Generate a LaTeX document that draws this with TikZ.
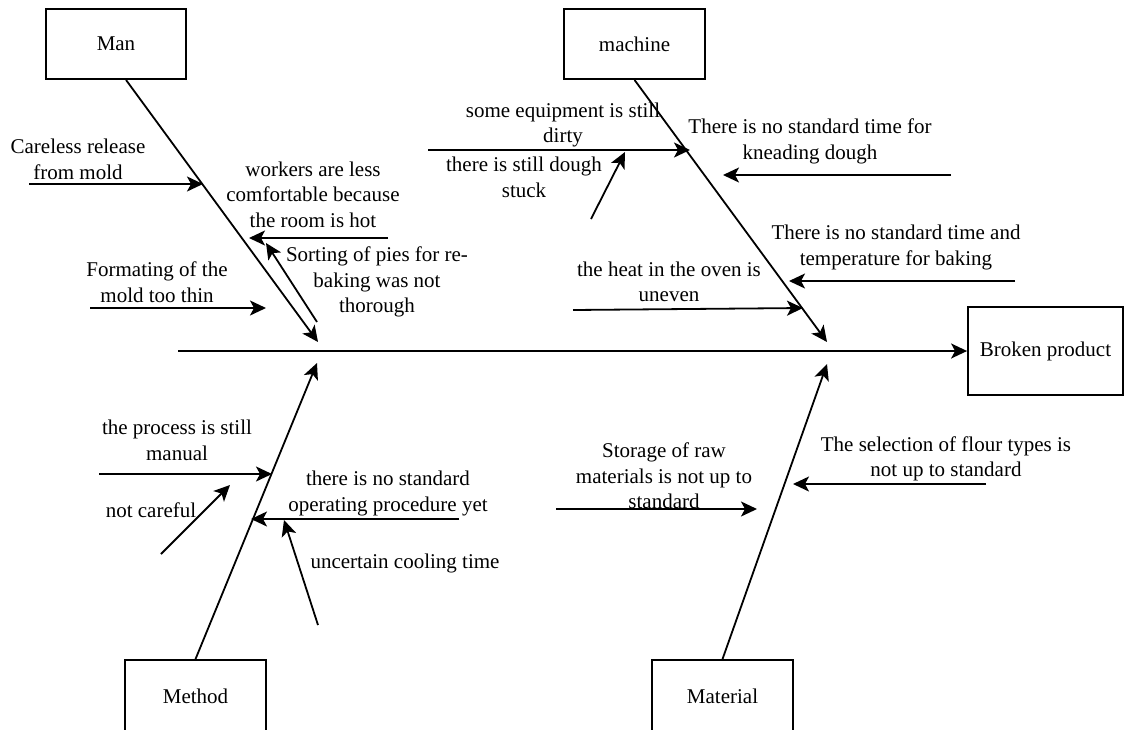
\documentclass[tikz,border=0pt]{standalone}
\usepackage{fontspec}
\setmainfont{Liberation Serif}
\usetikzlibrary{arrows.meta}
\begin{document}
\begin{tikzpicture}[
  box/.style={draw, line width=1.8pt, inner sep=0pt, font=\fontsize{21}{25.5}\selectfont},
  lbl/.style={align=center, inner sep=0pt, font=\fontsize{21}{25.5}\selectfont},
  arr/.style={line width=1.8pt, -{Stealth[length=16pt,width=15pt,inset=4pt,fill=black]}},
]
\begin{scope}[x=1pt,y=-1pt]
\useasboundingbox (0,0) rectangle (1124,729);

% category boxes
\node[box, minimum width=140pt, minimum height=70pt] (man) at (116,44) {Man};
\node[box, minimum width=141pt, minimum height=70pt] (machine) at (634.5,44) {machine};
\node[box, minimum width=141pt, minimum height=72pt] (method) at (195.5,696) {Method};
\node[box, minimum width=141pt, minimum height=72pt] (material) at (722.5,696) {Material};
\node[box, minimum width=155pt, minimum height=88pt] (broken) at (1045.5,351) {Broken product};

% spine and bones
\coordinate (spine) at (178,351);
\coordinate (mantip) at (318,342);
\coordinate (machtip) at (827,342);
\coordinate (methtip) at (317,363);
\coordinate (mattip) at (827,364);
\draw[arr] (spine) -- (broken.west);
\draw[arr] ([xshift=10pt]man.south) -- (mantip);
\draw[arr] (machine.south) -- (machtip);
\draw[arr] (method.north) -- (methtip);
\draw[arr] (material.north) -- (mattip);

% Man causes
\node[lbl] (tcareless) at (78,159.5) {Careless release\\from mold};
\coordinate (a1s) at (29,184); \coordinate (a1e) at (203,184);
\draw[arr] (a1s) -- (a1e);
\node[lbl] (tworkers) at (313,194.5) {workers are less\\comfortable because\\the room is hot};
\coordinate (a2s) at (388,238); \coordinate (a2e) at (249,238);
\draw[arr] (a2s) -- (a2e);
\node[lbl] (tsorting) at (377,282) {Sorting of pies for re-\\baking was not\\thorough};
\coordinate (a3s) at (317,322); \coordinate (a3e) at (266,243);
\draw[arr] (a3s) -- (a3e);
\node[lbl] (tformat) at (157,282) {Formating of the\\mold too thin};
\coordinate (a4s) at (90,308); \coordinate (a4e) at (266,308);
\draw[arr] (a4s) -- (a4e);

% machine causes
\node[lbl] (tequip) at (563,125) {some equipment is still\\dirty};
\coordinate (a5s) at (428,150); \coordinate (a5e) at (690,150);
\draw[arr] (a5s) -- (a5e);
\node[lbl] (tdough) at (524,177.5) {there is still dough\\stuck};
\coordinate (a6s) at (591,219); \coordinate (a6e) at (625,152);
\draw[arr] (a6s) -- (a6e);
\node[lbl] (tknead) at (810,141.5) {There is no standard time for\\kneading dough};
\coordinate (a7s) at (951,175); \coordinate (a7e) at (723,175);
\draw[arr] (a7s) -- (a7e);
\node[lbl] (tbake) at (896,247.5) {There is no standard time and\\temperature for baking};
\coordinate (a8s) at (1015,281); \coordinate (a8e) at (789,281);
\draw[arr] (a8s) -- (a8e);
\node[lbl] (theat) at (669,282) {the heat in the oven is\\uneven};
\coordinate (a9s) at (573,310); \coordinate (a9e) at (803,308);
\draw[arr] (a9s) -- (a9e);

% Method causes
\node[lbl] (tproc) at (177,440.5) {the process is still\\manual};
\coordinate (a10s) at (99,474); \coordinate (a10e) at (272,474);
\draw[arr] (a10s) -- (a10e);
\node[lbl] (tcare) at (151,510) {not careful};
\coordinate (a11s) at (161,554); \coordinate (a11e) at (230,485);
\draw[arr] (a11s) -- (a11e);
\node[lbl] (tsop) at (388,493.5) {there is no standard\\operating procedure yet};
\coordinate (a12s) at (459,519); \coordinate (a12e) at (251,519);
\draw[arr] (a12s) -- (a12e);
\node[lbl] (tcool) at (405,563) {uncertain cooling time};
\coordinate (a13s) at (318,625); \coordinate (a13e) at (284,520);
\draw[arr] (a13s) -- (a13e);

% Material causes
\node[lbl] (tstore) at (664,476) {Storage of raw\\materials is not up to\\standard};
\coordinate (a14s) at (556,509); \coordinate (a14e) at (757,509);
\draw[arr] (a14s) -- (a14e);
\node[lbl] (tflour) at (946,459) {The selection of flour types is\\not up to standard};
\coordinate (a15s) at (986,484); \coordinate (a15e) at (793,484);
\draw[arr] (a15s) -- (a15e);
\end{scope}
\end{tikzpicture}
\end{document}
